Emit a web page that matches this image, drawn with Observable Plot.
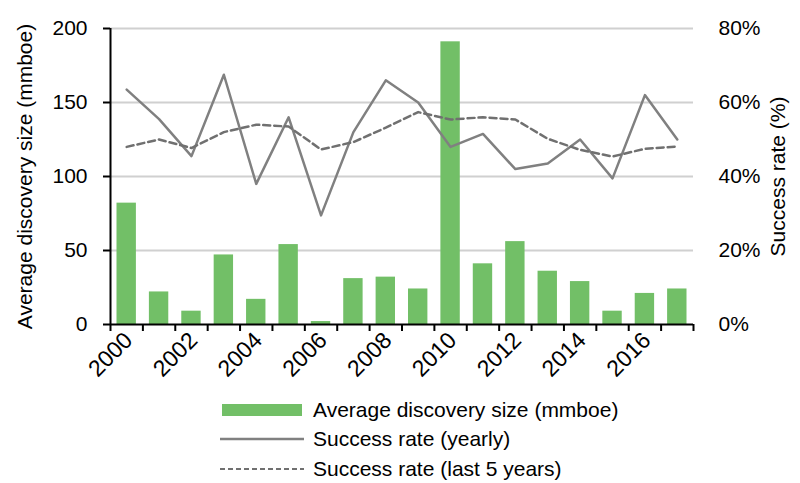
<!DOCTYPE html>
<html><head><meta charset="utf-8">
<script src="https://cdn.jsdelivr.net/npm/d3@7"></script>
<script src="https://cdn.jsdelivr.net/npm/@observablehq/plot@0.6"></script>
<style>
body{margin:0;background:#fff;font-family:"Liberation Sans",Arial,sans-serif;}
#wrap{position:relative;width:800px;height:483px;overflow:hidden;}
#legend{position:absolute;left:219px;top:395px;font-size:21px;color:#000;}
.row{display:flex;align-items:center;height:29.5px;white-space:nowrap;}
.row svg{width:86px;height:14px;margin-right:8px;flex:none;}
</style></head><body><div id="wrap"><div id="chart"></div><div id="legend"></div></div>
<script>
const years = [2000,2001,2002,2003,2004,2005,2006,2007,2008,2009,2010,2011,2012,2013,2014,2015,2016,2017];
const discoverySize = [82,22,9,47,17,54,2,31,32,24,191,41,56,36,29,9,21,24];
const successYearly = [63.5,55.5,45.5,67.5,38,56,29.5,52,66,60,48,51.5,42,43.5,50,39.5,62,50];
const success5yr = [48,50,47.7,52,54,53.5,47.3,49.3,53.2,57.4,55.4,56,55.4,50.2,47.2,45.4,47.5,48.1];
const leftTicks = [0,50,100,150,200];
const gridValues = [50,100,150,200];
const xLabelYears = [2000,2002,2004,2006,2008,2010,2012,2014,2016];
const seriesNames = ["Average discovery size (mmboe)","Success rate (yearly)","Success rate (last 5 years)"];
const leftTitle = "Average discovery size (mmboe)";
const rightTitle = "Success rate (%)";
const rateMax = 80, sizeMax = 200;
const k = sizeMax / rateMax;

const data = years.map((y,i)=>({year:y,size:discoverySize[i],yearly:successYearly[i],five:success5yr[i]}));

const barColor = "#72bf67";
const plot = Plot.plot({
  width: 800, height: 390,
  marginLeft: 110, marginRight: 107, marginTop: 28, marginBottom: 66,
  style: {fontFamily: "'Liberation Sans', Arial, sans-serif", fontSize: "21px", color: "#000", overflow: "visible", background: "#fff"},
  x: {domain: [1999.5, 2017.5]},
  y: {domain: [0, sizeMax]},
  marks: [
    Plot.ruleY(gridValues, {stroke: "#d0d0d0", strokeWidth: 2}),
    Plot.rectY(data, {x1: d => d.year - 0.5, x2: d => d.year + 0.5, y: "size", fill: barColor, insetLeft: 6.5, insetRight: 6.5}),
    Plot.line(data, {x: "year", y: d => d.yearly * k, stroke: "#808080", strokeWidth: 2.5}),
    Plot.line(data, {x: "year", y: d => d.five * k, stroke: "#707070", strokeWidth: 2.5, strokeDasharray: "7,4"}),
    Plot.ruleX([1999.5], {stroke: "#000", strokeWidth: 2}),
    Plot.ruleY([0], {stroke: "#000", strokeWidth: 2}),
    Plot.axisX({ticks: d3.range(1999.5, 2018, 1), tickFormat: () => "", tickSize: 7, strokeWidth: 2, stroke: "#000", label: null}),
    Plot.axisX({ticks: xLabelYears, tickSize: 0, tickRotate: -45, tickPadding: 12, dx: 2, tickFormat: d => String(d), fontSize: 23, label: null}),
    Plot.axisY({anchor: "left", ticks: leftTicks, tickSize: 7, tickPadding: 16, strokeWidth: 2, stroke: "#000", fontSize: 21, label: leftTitle, labelAnchor: "center", labelOffset: 93, labelArrow: "none"}),
    Plot.axisY({anchor: "right", ticks: leftTicks, tickSize: 0, tickPadding: 25, tickFormat: d => (d / k) + "%", fontSize: 21, label: rightTitle, labelAnchor: "center", labelOffset: 91, labelArrow: "none"})
  ]
});
document.getElementById("chart").appendChild(plot);

const legend = document.getElementById("legend");
const swatches = [
  `<svg viewBox="0 0 86 14"><rect x="3" y="1" width="80" height="12" fill="${barColor}"/></svg>`,
  `<svg viewBox="0 0 86 14"><line x1="1" x2="85" y1="7" y2="7" stroke="#808080" stroke-width="2.5"/></svg>`,
  `<svg viewBox="0 0 86 14"><line x1="1" x2="85" y1="7" y2="7" stroke="#707070" stroke-width="2" stroke-dasharray="5,3"/></svg>`
];
seriesNames.forEach((n,i)=>{
  const r = document.createElement("div");
  r.className = "row";
  r.innerHTML = swatches[i] + `<span>${n}</span>`;
  legend.appendChild(r);
});
</script></body></html>
